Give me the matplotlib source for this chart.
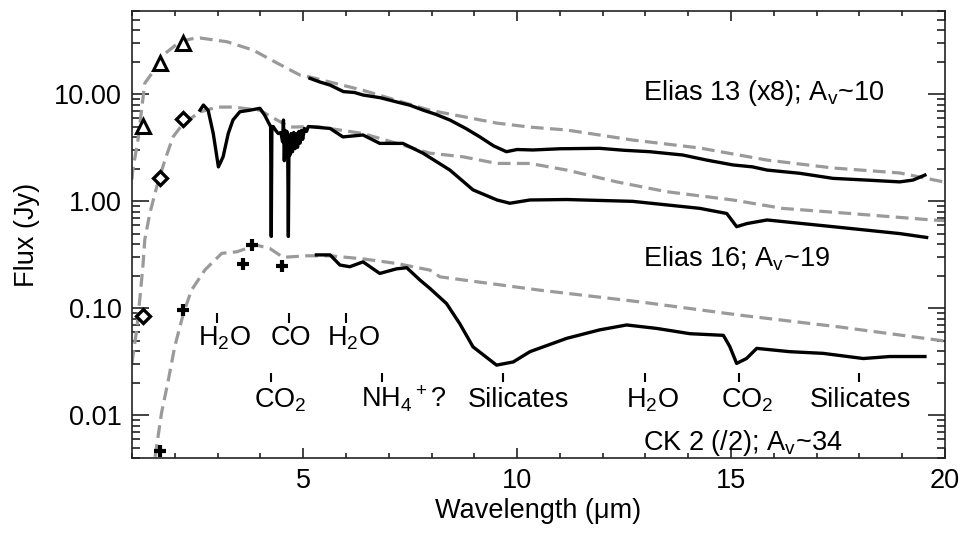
import numpy as np
import matplotlib
matplotlib.use("Agg")
import matplotlib.pyplot as plt
from matplotlib.ticker import FixedLocator, MultipleLocator, FuncFormatter, LogLocator, NullFormatter

plt.rcParams["font.family"] = ["Liberation Sans", "DejaVu Sans"]
plt.rcParams["mathtext.fontset"] = "custom"
plt.rcParams["mathtext.rm"] = "Liberation Sans"
plt.rcParams["mathtext.it"] = "Liberation Sans"

# ------------------------------------------------------------
# photometry (J, H, K, L, L', M)
# ------------------------------------------------------------
e13_phot_x = [1.25, 1.65, 2.2]
e13_phot_y = [5.1, 19.5, 30.3]

e16_phot_x = [1.25, 1.65, 2.2]
e16_phot_y = [0.084, 1.64, 5.84]

ck2_phot_x = [1.65, 2.2, 3.6, 3.8, 4.5]
ck2_phot_y = [0.0047, 0.096, 0.26, 0.39, 0.25]

# ------------------------------------------------------------
# models (dashed grey)
# ------------------------------------------------------------
e13_mod_x = [1.0, 1.02, 1.14, 1.26, 1.3, 1.47, 1.72, 1.77, 2.12, 2.39, 2.59, 3.22, 3.83, 4.39,
             4.93, 5.16, 6.40, 7.96, 9.53, 10.3, 11.16, 12.7, 14.27, 15.84, 17.38, 18.95, 20.0]
e13_mod_y = [1.6, 1.96, 3.74, 9.4, 12.7, 15.8, 22.4, 24.0, 31.0, 33.0, 33.6, 31.0, 25.9, 19.6,
             15.1, 14.5, 10.9, 7.1, 5.38, 4.94, 4.64, 3.74, 3.15, 2.43, 2.05, 1.84, 1.51]

e16_mod_x = [1.0, 1.11, 1.19, 1.26, 1.30, 1.42, 1.58, 1.77, 1.96, 2.19, 2.59, 2.99, 3.36, 3.99,
             4.39, 4.69, 5.32, 6.40, 7.19, 7.96, 8.73, 9.53, 10.3, 11.16, 12.33, 13.5, 15.04,
             16.2, 17.78, 19.7, 20.0]
e16_mod_y = [0.031, 0.063, 0.129, 0.26, 0.44, 0.78, 1.37, 2.43, 4.0, 5.3, 6.84, 7.6, 7.6, 7.1,
             5.75, 4.94, 5.0, 4.3, 3.48, 2.82, 2.61, 2.26, 2.26, 1.96, 1.52, 1.23, 1.03,
             0.86, 0.77, 0.67, 0.66]

ck2_mod_x = [1.54, 1.69, 1.85, 2.0, 2.2, 2.39, 2.71, 3.1, 3.45, 3.91, 4.22, 4.53, 5.08, 5.63,
             6.4, 7.18, 7.96, 8.2, 10.53, 12.87, 15.2, 17.54, 20.0]
ck2_mod_y = [0.0041, 0.0105, 0.0214, 0.044, 0.089, 0.148, 0.23, 0.327, 0.338, 0.39, 0.363, 0.30,
             0.31, 0.31, 0.29, 0.263, 0.228, 0.197, 0.148, 0.115, 0.0865, 0.067, 0.0495]

# ------------------------------------------------------------
# spectra (solid black)
# ------------------------------------------------------------
e13_x = [5.16, 5.4, 5.63, 5.94, 6.2, 6.4, 6.8, 7.18, 7.5, 7.81, 8.1, 8.43, 8.8, 9.13, 9.45, 9.75,
         10.0, 10.37, 11.0, 11.93, 12.5, 13.1, 13.87, 14.43, 15.04, 15.5, 15.84, 16.6, 17.38,
         18.17, 18.94, 19.25, 19.53]
e13_y = [14.1, 13.0, 12.2, 10.6, 10.4, 9.85, 9.3, 8.5, 7.9, 7.1, 6.5, 5.75, 4.8, 4.0, 3.3, 2.91,
         3.05, 3.02, 3.1, 3.13, 3.0, 2.91, 2.71, 2.43, 2.19, 2.1, 1.96, 1.83, 1.64,
         1.58, 1.52, 1.58, 1.76]

e16_x = [2.59, 2.67, 2.78, 2.90, 3.02, 3.13, 3.25, 3.36, 3.52, 3.75, 3.99, 4.10, 4.20, 4.24,
         4.255, 4.27, 4.30, 4.36, 4.42, 4.48, 4.52, 4.54, 4.56, 4.58, 4.60, 4.62, 4.64, 4.655,
         4.67, 4.69, 4.72, 4.75, 4.78, 4.81, 4.84, 4.87, 4.90, 4.93, 4.96, 4.99, 5.03, 5.08,
         5.12, 5.63, 5.93, 6.4, 6.79, 7.33, 7.8, 8.43, 8.97, 9.53, 9.83, 10.3, 11.16, 12.7,
         14.27, 14.9, 15.13, 15.37, 15.84, 17.38, 18.94, 19.57]
e16_y = [7.1, 7.94, 7.1, 4.3, 2.1, 2.61, 4.3, 5.75, 6.87, 7.1, 7.4, 6.4, 5.36, 5.0,
         0.47, 5.0, 5.0, 4.6, 4.3, 4.4, 3.6, 5.75, 2.4, 4.6, 2.6, 4.5, 2.8, 0.47,
         4.0, 2.7, 4.3, 2.9, 4.4, 3.1, 4.3, 3.2, 4.5, 3.5, 4.6, 3.8, 4.8, 4.5,
         5.0, 4.8, 4.0, 4.17, 3.48, 3.48, 2.82, 1.96, 1.28, 1.03, 0.96, 1.03, 1.04, 1.0,
         0.86, 0.77, 0.58, 0.62, 0.67, 0.58, 0.50, 0.46]

ck2_x = [5.31, 5.63, 5.86, 6.09, 6.4, 6.79, 7.18, 7.42, 7.73, 7.96, 8.35, 8.66, 8.97, 9.52,
         9.91, 10.3, 11.16, 11.93, 12.56, 13.26, 14.04, 14.82, 14.97, 15.13, 15.36, 15.6,
         16.37, 17.15, 18.09, 18.71, 19.53]
ck2_y = [0.316, 0.316, 0.254, 0.245, 0.272, 0.212, 0.234, 0.24, 0.184, 0.154, 0.111, 0.072,
         0.0437, 0.0295, 0.0316, 0.0394, 0.0525, 0.063, 0.07, 0.065, 0.058, 0.056, 0.044,
         0.0306, 0.034, 0.0423, 0.0394, 0.038, 0.034, 0.0355, 0.0355]

# ------------------------------------------------------------
# feature labels
# ------------------------------------------------------------
upper_labels = ["H$_2$O", "CO", "H$_2$O"]
upper_wave = [2.99, 4.66, 6.0]
upper_text_x = [3.17, 4.71, 6.18]

lower_labels = ["CO$_2$", "NH$_4$$^+$?", "Silicates", "H$_2$O", "CO$_2$", "Silicates"]
lower_wave = [4.25, 6.85, 9.68, 12.99, 15.18, 17.99]
lower_text_x = [4.47, 7.35, 10.04, 13.17, 15.37, 18.03]

source_labels = ["Elias 13 (x8); A$_\\mathrm{v}$~10", "Elias 16; A$_\\mathrm{v}$~19",
                 "CK 2 (/2); A$_\\mathrm{v}$~34"]
source_y = [8.85, 0.248, 0.00473]

# ============================================================
# PLOT
# ============================================================
FS = 19.5
fig = plt.figure(figsize=(9.66, 5.33), dpi=100)
ax = fig.add_axes([0.1366, 0.1407, 0.8417, 0.8386])

grey = "#9a9a9a"
dash = (0, (4, 2))
for mx, my in [(e13_mod_x, e13_mod_y), (e16_mod_x, e16_mod_y), (ck2_mod_x, ck2_mod_y)]:
    ax.plot(mx, my, color=grey, lw=2.3, linestyle=dash, zorder=2)

for sx, sy in [(e13_x, e13_y), (e16_x, e16_y), (ck2_x, ck2_y)]:
    ax.plot(sx, sy, color="black", lw=2.4, zorder=3, solid_joinstyle="round")

ax.plot(e13_phot_x, e13_phot_y, ls="none", marker="^", ms=10, mfc="white", mec="black", mew=2.2, zorder=4)
ax.plot(e16_phot_x, e16_phot_y, ls="none", marker="D", ms=7, mfc="white", mec="black", mew=2.4, zorder=4)
ax.plot(ck2_phot_x, ck2_phot_y, ls="none", marker="+", ms=9, mec="black", mew=3, zorder=4)

# feature markers
ax.vlines(upper_wave, 0.073, 0.090, color="black", lw=1.5)
ax.vlines(lower_wave, 0.0205, 0.0248, color="black", lw=1.5)
for lab, tx in zip(upper_labels, upper_text_x):
    ax.text(tx, 0.0454, lab, ha="center", va="baseline", fontsize=FS)
for lab, tx in zip(lower_labels, lower_text_x):
    ax.text(tx, 0.01197, lab, ha="center", va="baseline", fontsize=FS)

for lab, sy in zip(source_labels, source_y):
    ax.text(12.95, sy, lab, ha="left", va="baseline", fontsize=FS)

ax.set_yscale("log")
ax.set_xlim(1, 20)
ax.set_ylim(0.004, 60)

ax.xaxis.set_major_locator(FixedLocator([5, 10, 15, 20]))
ax.xaxis.set_minor_locator(MultipleLocator(1))
ax.yaxis.set_major_locator(FixedLocator([0.01, 0.1, 1, 10]))
ax.yaxis.set_minor_locator(LogLocator(base=10, subs=np.arange(2, 10)))
ax.yaxis.set_major_formatter(FuncFormatter(lambda v, p: f"{v:.2f}"))
ax.yaxis.set_minor_formatter(NullFormatter())

ax.tick_params(axis="both", which="both", direction="in", top=True, right=True, labelsize=FS,
               color="#222222", width=1.2)
ax.tick_params(axis="x", which="major", length=7, pad=7)
ax.tick_params(axis="x", which="minor", length=3.5)
ax.tick_params(axis="y", which="major", length=12, pad=7)
ax.tick_params(axis="y", which="minor", length=6)
for sp in ax.spines.values():
    sp.set_linewidth(1.2)
    sp.set_color("#222222")

ax.set_xlabel("Wavelength (μm)", fontsize=FS, labelpad=3)
ax.set_ylabel("Flux (Jy)", fontsize=FS, labelpad=10)

fig.savefig("out.png", dpi=100)
